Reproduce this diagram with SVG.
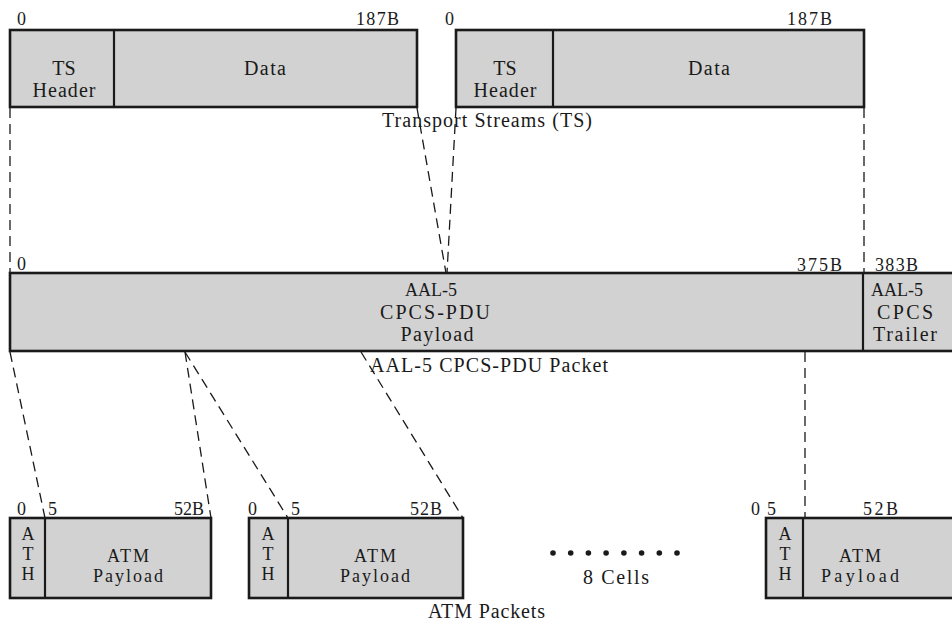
<svg xmlns="http://www.w3.org/2000/svg" width="952" height="625" viewBox="0 0 952 625">
<style>
text{font-family:"Liberation Serif","Times New Roman",serif;fill:#1a1a1a}
.box{fill:#d2d2d2;stroke:#1a1a1a;stroke-width:2.6}
.div{stroke:#1a1a1a;stroke-width:2.2}
.num{font-size:18px}
.bt{font-size:20px;text-anchor:middle}
.ct{font-size:18px;text-anchor:middle}
.cap{font-size:20px}
.dash{fill:none;stroke:#1a1a1a;stroke-width:1.3;stroke-dasharray:10 6}
</style>
<rect width="952" height="625" fill="#ffffff"/>

<g id="connectors">
<line class="dash" x1="10" y1="108" x2="10" y2="273"/>
<line class="dash" x1="417" y1="108" x2="446" y2="273"/>
<line class="dash" x1="456" y1="108" x2="447" y2="273"/>
<line class="dash" x1="864" y1="108" x2="864" y2="273"/>
<line class="dash" x1="10" y1="352" x2="45" y2="518"/>
<line class="dash" x1="185" y1="352" x2="211" y2="518"/>
<line class="dash" x1="185" y1="352" x2="288" y2="518"/>
<line class="dash" x1="361" y1="352" x2="463" y2="518"/>
<line class="dash" x1="805" y1="352" x2="805" y2="518"/>
</g>

<g id="ts1">
<rect class="box" x="10" y="30" width="407" height="77"/>
<line class="div" x1="114" y1="30" x2="114" y2="107"/>
<text class="num" x="17" y="25">0</text>
<text class="num" x="356" y="25" textLength="43">187B</text>
<text class="bt" x="64" y="75">TS</text>
<text class="bt" x="64" y="97" textLength="63">Header</text>
<text class="bt" x="265" y="75" textLength="42">Data</text>
</g>

<g id="ts2">
<rect class="box" x="456" y="30" width="408" height="77"/>
<line class="div" x1="553" y1="30" x2="553" y2="107"/>
<text class="num" x="445" y="25">0</text>
<text class="num" x="787" y="25" textLength="45">187B</text>
<text class="bt" x="505" y="75">TS</text>
<text class="bt" x="505" y="97" textLength="63">Header</text>
<text class="bt" x="709" y="75" textLength="42">Data</text>
</g>

<text id="ts-caption" class="cap" x="382" y="127" textLength="210">Transport Streams (TS)</text>

<g id="aal5">
<rect class="box" x="10" y="273" width="960" height="78"/>
<line class="div" x1="863" y1="273" x2="863" y2="351"/>
<text class="num" x="17" y="270">0</text>
<text class="num" x="797" y="271" textLength="45">375B</text>
<text class="num" x="875" y="271" textLength="43">383B</text>
<text class="bt" x="431" y="296" style="font-size:18px">AAL-5</text>
<text class="bt" x="435" y="319" textLength="110">CPCS-PDU</text>
<text class="bt" x="437" y="341" textLength="73">Payload</text>
<text class="bt" x="897" y="296" style="font-size:18px">AAL-5</text>
<text class="bt" x="905" y="319" textLength="56">CPCS</text>
<text class="bt" x="905" y="341" textLength="64">Trailer</text>
</g>

<text id="aal5-caption" class="cap" x="370" y="372" textLength="238">AAL-5 CPCS-PDU Packet</text>

<g id="cell1">
<rect class="box" x="10" y="518" width="201" height="80"/>
<line class="div" x1="45" y1="518" x2="45" y2="598"/>
<text class="num" x="17" y="515">0</text>
<text class="num" x="48" y="515">5</text>
<text class="num" x="174" y="515" textLength="30">52B</text>
<text class="ct" x="28" y="540">A</text>
<text class="ct" x="28" y="560">T</text>
<text class="ct" x="28" y="580">H</text>
<text class="ct" x="128" y="562" textLength="42">ATM</text>
<text class="ct" x="128" y="582" textLength="70">Payload</text>
</g>

<g id="cell2">
<rect class="box" x="249" y="518" width="214" height="80"/>
<line class="div" x1="288" y1="518" x2="288" y2="598"/>
<text class="num" x="248" y="515">0</text>
<text class="num" x="291" y="515">5</text>
<text class="num" x="410" y="515" textLength="32">52B</text>
<text class="ct" x="268" y="540">A</text>
<text class="ct" x="268" y="560">T</text>
<text class="ct" x="268" y="580">H</text>
<text class="ct" x="375" y="562" textLength="42">ATM</text>
<text class="ct" x="375" y="582" textLength="70">Payload</text>
</g>

<g id="cells-more">
<circle cx="553" cy="553" r="2.8" fill="#1a1a1a"/>
<circle cx="570.7" cy="553" r="2.8" fill="#1a1a1a"/>
<circle cx="588.4" cy="553" r="2.8" fill="#1a1a1a"/>
<circle cx="606.1" cy="553" r="2.8" fill="#1a1a1a"/>
<circle cx="623.9" cy="553" r="2.8" fill="#1a1a1a"/>
<circle cx="641.6" cy="553" r="2.8" fill="#1a1a1a"/>
<circle cx="659.3" cy="553" r="2.8" fill="#1a1a1a"/>
<circle cx="677" cy="553" r="2.8" fill="#1a1a1a"/>
<text class="ct" x="616" y="584" style="font-size:20px" textLength="66">8 Cells</text>
</g>

<g id="cell3">
<rect class="box" x="766" y="518" width="200" height="80"/>
<line class="div" x1="803" y1="518" x2="803" y2="598"/>
<text class="num" x="751" y="515">0</text>
<text class="num" x="767" y="515">5</text>
<text class="num" x="863" y="515" textLength="35">52B</text>
<text class="ct" x="785" y="540">A</text>
<text class="ct" x="785" y="560">T</text>
<text class="ct" x="785" y="580">H</text>
<text class="ct" x="860" y="562" textLength="42">ATM</text>
<text class="ct" x="860" y="582" textLength="78">Payload</text>
</g>

<text id="atm-caption" class="cap" x="428" y="618" textLength="117">ATM Packets</text>
</svg>
